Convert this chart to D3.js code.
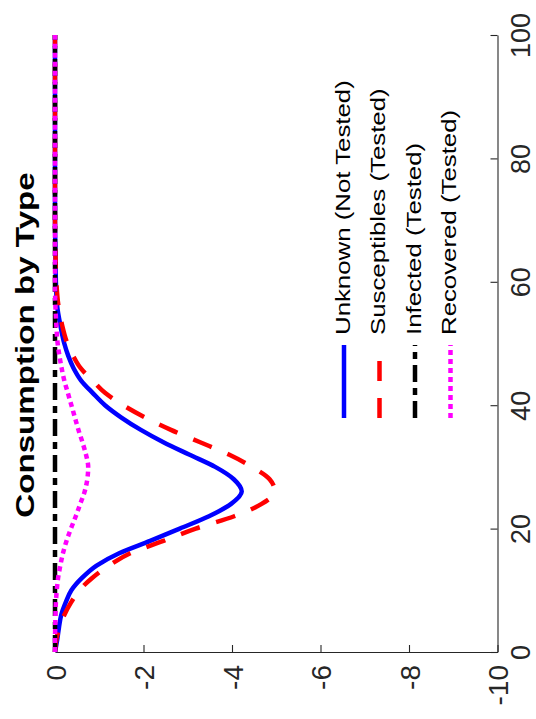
<!DOCTYPE html>
<html>
<head>
<meta charset="utf-8">
<script src="https://cdn.jsdelivr.net/npm/d3@7"></script>
<style>
  html, body { margin: 0; padding: 0; background: #fff; }
  svg { display: block; }
  text { font-family: "Liberation Sans", Arial, Helvetica, sans-serif; }
</style>
</head>
<body>
<svg id="chart" width="536" height="719"></svg>
<script>
// ---- data (weeks vs consumption deviation) ----
const weeks = [0, 2, 4, 6, 8, 10, 12, 14, 16, 18, 20, 22, 24, 26, 28, 30, 32, 34, 36, 38, 40, 42, 44, 46, 48, 50, 53, 56, 60, 65, 70, 80, 90, 100];
const unknownNotTested = [0, -0.05, -0.09, -0.14, -0.24, -0.37, -0.61, -0.94, -1.45, -2.15, -2.82, -3.48, -3.98, -4.22, -4.04, -3.62, -3.03, -2.45, -1.94, -1.50, -1.13, -0.85, -0.59, -0.42, -0.30, -0.21, -0.12, -0.05, -0.02, -0.01, 0, 0, 0, 0];
const susceptiblesTested = [0, -0.03, -0.10, -0.21, -0.36, -0.55, -0.84, -1.22, -1.70, -2.45, -3.18, -4.05, -4.67, -4.97, -4.85, -4.45, -3.93, -3.28, -2.62, -2.04, -1.54, -1.13, -0.85, -0.58, -0.41, -0.28, -0.16, -0.08, -0.03, -0.01, 0, 0, 0, 0];
const infectedTested = [0, 0, 0, 0, 0, 0, 0, 0, 0, 0, 0, 0, 0, 0, 0, 0, 0, 0, 0, 0, 0, 0, 0, 0, 0, 0, 0, 0, 0, 0, 0, 0, 0, 0];
const recoveredTested = [0, 0, -0.005, -0.01, -0.02, -0.04, -0.07, -0.12, -0.18, -0.26, -0.36, -0.47, -0.57, -0.67, -0.73, -0.75, -0.70, -0.62, -0.53, -0.45, -0.37, -0.29, -0.21, -0.15, -0.10, -0.06, -0.03, -0.01, 0, 0, 0, 0, 0, 0];
const seriesNames = ["Unknown (Not Tested)", "Susceptibles (Tested)", "Infected (Tested)", "Recovered (Tested)"];
const weekTicks = [0, 20, 40, 60, 80, 100];
const consTicks = [0, -2, -4, -6, -8, -10];
const titleText = "Consumption by Type";

// ---- styles ----
const styles = [
  { color: "#0000ff", dash: null },
  { color: "#ff0000", dash: "20,17" },
  { color: "#000000", dash: "17,6,7,6" },
  { color: "#ff00ff", dash: "5,4" }
];
const axisColor = "#262626";

const svg = d3.select("#chart");

// rotated figure: weeks run bottom->top, consumption runs left->right
const tScale = d3.scaleLinear().domain([0, 100]).range([652, 35]);
const cScale = d3.scaleLinear().domain([0, -10]).range([55, 497.5]);

// axes
const weekAxis = d3.axisRight(tScale).tickValues(weekTicks).tickSizeInner(-7).tickSizeOuter(0).tickFormat(d => String(d));
const gW = svg.append("g").attr("transform", "translate(497.5,0)").call(weekAxis);
gW.select(".domain").attr("stroke", axisColor).attr("stroke-width", 1.1);
gW.selectAll(".tick line").attr("stroke", axisColor).attr("stroke-width", 1.1);
gW.selectAll(".tick text")
  .attr("x", null).attr("dy", null).attr("fill", axisColor)
  .attr("font-size", 27).attr("text-anchor", "middle")
  .attr("transform", "translate(32.5,0) rotate(-90)");

const consAxis = d3.axisBottom(cScale).tickValues(consTicks).tickSizeInner(-7).tickSizeOuter(0).tickFormat(d => String(d));
const gC = svg.append("g").attr("transform", "translate(0,652)").call(consAxis);
gC.select(".domain").attr("stroke", axisColor).attr("stroke-width", 1.1);
gC.selectAll(".tick line").attr("stroke", axisColor).attr("stroke-width", 1.1);
gC.selectAll(".tick text")
  .attr("y", null).attr("dy", null).attr("fill", axisColor)
  .attr("font-size", 28).attr("text-anchor", "end")
  .attr("transform", "translate(10,13) rotate(-90)");

// lines
const allSeries = [unknownNotTested, susceptiblesTested, infectedTested, recoveredTested];
const line = d3.line()
  .x(d => cScale(d[1]))
  .y(d => tScale(d[0]))
  .curve(d3.curveMonotoneY);

allSeries.forEach((vals, i) => {
  const pts = weeks.map((w, j) => [w, vals[j]]);
  svg.append("path")
    .datum(pts)
    .attr("d", line)
    .attr("fill", "none")
    .attr("stroke", styles[i].color)
    .attr("stroke-width", 4.5)
    .attr("stroke-dasharray", styles[i].dash);
});

// title
svg.append("text")
  .attr("transform", "translate(34,345) rotate(-90) scale(1.3,1)")
  .attr("text-anchor", "middle")
  .attr("font-weight", "bold")
  .attr("font-size", 25.5)
  .attr("fill", "#000")
  .text(titleText);

// legend
const legBase = [349.5, 385, 420.5, 456];
seriesNames.forEach((name, i) => {
  const bx = legBase[i];
  svg.append("line")
    .attr("x1", bx - 5.5).attr("x2", bx - 5.5)
    .attr("y1", 418).attr("y2", 345)
    .attr("stroke", styles[i].color)
    .attr("stroke-width", 4.5)
    .attr("stroke-dasharray", styles[i].dash);
  svg.append("text")
    .attr("transform", `translate(${bx},335) rotate(-90) scale(1.29,1)`)
    .attr("text-anchor", "start")
    .attr("font-size", 20)
    .attr("fill", "#000")
    .text(name);
});
</script>
</body>
</html>
